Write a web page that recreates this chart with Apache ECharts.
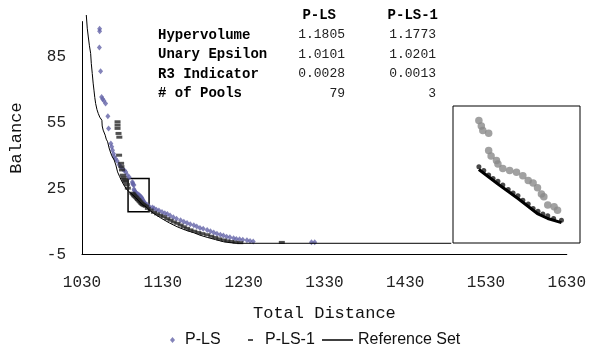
<!DOCTYPE html>
<html>
<head>
<meta charset="utf-8">
<script src="https://cdn.jsdelivr.net/npm/echarts@6/dist/echarts.min.js"></script>
<style>html,body{margin:0;padding:0;background:#fff}#c{width:589px;height:350px}</style>
</head>
<body>
<div id="c"></div>
<script>
// ---- data ----
const xTicks = [1030, 1130, 1230, 1330, 1430, 1530, 1630];
const yTicks = [-5, 25, 55, 85];
const xRange = [1030, 1630];
const yRange = [-5, 101];
const zoomBoxX = [1087, 1113];
const zoomBoxY = [14.5, 29.6];
const insetDataRange = [1092, 1110];

const metricNames = ['Hypervolume', 'Unary Epsilon', 'R3 Indicator', '# of Pools'];
const methodNames = ['P-LS', 'P-LS-1'];
const plsMetrics = ['1.1805', '1.0101', '0.0028', '79'];
const pls1Metrics = ['1.1773', '1.0201', '0.0013', '3'];

const plsPoints = [
  [1051.8, 97.8], [1051.8, 96.6], [1051.5, 89.2], [1053.0, 78.4], [1054.3, 66.7], [1055.5, 65.8],
  [1057.1, 65.0], [1059.2, 63.7], [1062.0, 57.9], [1062.9, 52.4], [1065.7, 45.5], [1066.8, 44.0],
  [1067.8, 42.5], [1069.0, 40.8], [1069.8, 39.5], [1071.5, 38.6], [1073.5, 37.5], [1076.0, 35.8],
  [1078.0, 34.9], [1080.5, 33.9], [1082.5, 33.2], [1084.2, 32.6], [1086.0, 31.2], [1088.5, 30.2],
  [1092.3, 28.0], [1092.8, 27.4], [1093.1, 26.9], [1094.3, 26.6], [1094.3, 24.7], [1094.8, 24.1],
  [1095.9, 23.6], [1096.2, 23.2], [1097.2, 22.7], [1098.6, 22.5], [1100.0, 22.3], [1101.3, 21.9],
  [1102.4, 21.4], [1103.4, 21.1], [1104.3, 20.6], [1105.1, 19.9], [1105.6, 19.6], [1106.4, 18.7],
  [1107.7, 18.5], [1108.4, 18.1], [1110.5, 17.6], [1113.0, 17.0], [1117.1, 16.4], [1119.1, 16.0],
  [1122.0, 15.4], [1125.2, 15.0], [1129.0, 14.3], [1132.5, 13.8], [1135.6, 13.4], [1139.0, 12.7],
  [1143.0, 11.9], [1147.0, 11.3], [1152.0, 10.6], [1156.0, 9.9], [1160.0, 9.3], [1164.0, 8.8],
  [1168.4, 8.3], [1172.0, 7.7], [1176.0, 7.1], [1180.0, 6.7], [1184.9, 6.1], [1189.0, 5.6],
  [1193.0, 5.0], [1197.0, 4.5], [1201.2, 4.0], [1205.0, 3.6], [1209.0, 3.1], [1213.0, 2.8],
  [1217.6, 2.4], [1221.0, 2.1], [1225.0, 1.9], [1229.0, 1.7], [1234.1, 1.5], [1238.0, 1.2],
  [1241.9, 0.9], [1314.0, 0.6], [1318.0, 0.6]
];

const pls1Points = [
  [1074.0, 55.4], [1074.0, 53.9], [1074.0, 52.4], [1075.2, 50.1], [1076.2, 48.4], [1075.9, 40.2],
  [1078.4, 36.5], [1078.8, 35.0], [1079.5, 33.5], [1080.5, 31.1], [1081.5, 30.0], [1082.5, 29.2],
  [1083.5, 28.6], [1084.2, 28.0], [1085.5, 26.8], [1086.7, 25.2],
  [1092.3, 22.9], [1093.3, 22.5], [1094.3, 22.0], [1095.2, 21.6], [1096.2, 21.3], [1097.2, 20.9],
  [1098.3, 20.4], [1099.3, 20.0], [1100.3, 19.7], [1101.3, 19.2], [1102.4, 18.8], [1103.4, 18.3],
  [1104.4, 18.0], [1105.4, 17.7], [1106.4, 17.5], [1107.6, 17.2], [1109.2, 17.0],
  [1111.5, 16.0], [1115.0, 15.2], [1119.0, 14.2], [1123.0, 13.5], [1127.0, 12.8], [1131.4, 12.2],
  [1135.5, 11.3], [1139.5, 10.6], [1143.5, 9.8], [1147.9, 9.2], [1152.0, 8.4], [1156.0, 7.6],
  [1160.0, 6.9], [1164.3, 6.2], [1169.0, 5.6], [1174.0, 5.0], [1179.0, 4.5], [1184.9, 4.0],
  [1190.0, 3.3], [1195.0, 2.7], [1200.0, 2.1], [1205.3, 1.6], [1210.0, 1.2], [1215.0, 0.9],
  [1220.0, 0.6], [1225.9, 0.4], [1277.3, 0.5]
];

const refPoints = [
  [1035.3, 104.0], [1036.5, 98.0], [1037.8, 94.0], [1039.2, 90.0], [1040.7, 86.5], [1041.5, 82.0],
  [1042.7, 77.4], [1043.8, 73.0], [1044.8, 69.8], [1045.8, 66.5], [1046.9, 63.7], [1048.5, 61.0],
  [1050.1, 59.2], [1052.0, 57.5], [1053.5, 56.8], [1054.6, 56.1], [1055.0, 53.5], [1056.2, 51.6],
  [1058.7, 49.3], [1060.0, 47.5], [1061.7, 46.3], [1063.5, 43.5], [1065.7, 41.0], [1067.5, 39.5],
  [1069.8, 38.0], [1071.9, 35.7], [1074.0, 32.6], [1076.5, 30.5], [1079.0, 28.5], [1082.0, 26.5],
  [1085.0, 24.8], [1088.0, 23.6], [1090.5, 22.9], [1092.3, 22.6], [1096.2, 21.0], [1100.3, 19.4],
  [1104.4, 17.7], [1106.4, 17.2], [1109.2, 16.75], [1113.0, 15.3], [1120.0, 13.4], [1128.0, 11.5],
  [1138.0, 9.4], [1147.9, 7.6], [1158.0, 6.1], [1168.4, 4.9], [1176.0, 3.8], [1184.9, 2.8],
  [1195.0, 1.8], [1205.3, 0.8], [1213.0, 0.4], [1221.8, 0.1], [1487.0, 0.1]
];

// ---- chart ----
const inRange = p => p[0] >= insetDataRange[0] && p[0] <= insetDataRange[1];
const monoFont = 'Liberation Mono';
const axisText = { fontFamily: monoFont, fontSize: 16, color: '#222' };

const chart = echarts.init(document.getElementById('c'), null, { renderer: 'canvas' });

const graphics = [];
const rowY = [35, 54.5, 74, 93.5];
graphics.push({ type: 'text', x: 336, y: 15, style: { text: methodNames[0], font: 'bold 14px "Liberation Mono"', fill: '#000', align: 'right', verticalAlign: 'middle' } });
graphics.push({ type: 'text', x: 438, y: 15, style: { text: methodNames[1], font: 'bold 14px "Liberation Mono"', fill: '#000', align: 'right', verticalAlign: 'middle' } });
metricNames.forEach((m, i) => {
  graphics.push({ type: 'text', x: 158, y: rowY[i], style: { text: m, font: 'bold 14px "Liberation Mono"', fill: '#000', align: 'left', verticalAlign: 'middle' } });
  graphics.push({ type: 'text', x: 345, y: rowY[i], style: { text: plsMetrics[i], font: '13px "Liberation Mono"', fill: '#222', align: 'right', verticalAlign: 'middle' } });
  graphics.push({ type: 'text', x: 436, y: rowY[i], style: { text: pls1Metrics[i], font: '13px "Liberation Mono"', fill: '#222', align: 'right', verticalAlign: 'middle' } });
});

const legendText = { fontFamily: 'Liberation Sans', fontSize: 16, color: '#111' };
const plainNum = v => String(v);

chart.setOption({
  animation: false,
  backgroundColor: '#fff',
  graphic: graphics,
  legend: [
    { data: [{ name: 'P-LS', icon: 'diamond' }], left: 170, top: 332, padding: 0, itemWidth: 5, itemHeight: 6, selectedMode: false, textStyle: Object.assign({ padding: [0, 0, 0, 5] }, legendText) },
    { data: [{ name: 'P-LS-1', icon: 'rect' }], left: 248, top: 332, padding: 0, itemWidth: 5, itemHeight: 2, selectedMode: false, textStyle: Object.assign({ padding: [0, 0, 0, 7] }, legendText) },
    { data: [{ name: 'Reference Set', icon: 'rect' }], left: 322, top: 332, padding: 0, itemWidth: 31, itemHeight: 1.5, selectedMode: false, textStyle: legendText }
  ],
  grid: [
    { left: 81, right: 18, top: 21.6, bottom: 95.5 },
    { left: 453, top: 106, width: 127, height: 137, show: true, backgroundColor: '#fff', borderColor: '#000', borderWidth: 1 }
  ],
  xAxis: [
    {
      type: 'value', gridIndex: 0, min: xRange[0], max: xRange[1],
      axisLine: { show: true, onZero: false, lineStyle: { color: '#000', width: 1 } },
      axisTick: { show: false }, splitLine: { show: false },
      axisLabel: Object.assign({ customValues: xTicks, margin: 20, formatter: plainNum }, axisText),
      name: 'Total Distance', nameLocation: 'middle', nameGap: 50,
      nameTextStyle: { fontFamily: monoFont, fontSize: 17, color: '#111' }
    },
    { type: 'value', gridIndex: 1, min: zoomBoxX[0], max: zoomBoxX[1], show: false }
  ],
  yAxis: [
    {
      type: 'value', gridIndex: 0, min: yRange[0], max: yRange[1],
      axisLine: { show: true, onZero: false, lineStyle: { color: '#000', width: 1 } },
      axisTick: { show: false }, splitLine: { show: false },
      axisLabel: Object.assign({ customValues: yTicks, margin: 16, formatter: plainNum }, axisText),
      name: 'Balance', nameLocation: 'middle', nameGap: 57,
      nameTextStyle: { fontFamily: monoFont, fontSize: 17, color: '#111' }
    },
    { type: 'value', gridIndex: 1, min: zoomBoxY[0], max: zoomBoxY[1], show: false }
  ],
  series: [
    {
      name: 'P-LS', type: 'scatter', xAxisIndex: 0, yAxisIndex: 0, data: plsPoints,
      symbol: 'diamond', symbolSize: [5, 6], itemStyle: { color: '#6464A8' }, z: 2
    },
    {
      name: 'P-LS-1', type: 'scatter', xAxisIndex: 0, yAxisIndex: 0, data: pls1Points,
      symbol: 'rect', symbolSize: [6, 3], itemStyle: { color: '#262626' }, z: 3
    },
    {
      name: 'Reference Set', type: 'line', xAxisIndex: 0, yAxisIndex: 0, data: refPoints,
      symbol: 'none', clip: false, lineStyle: { color: '#000', width: 1 }, itemStyle: { color: '#000' }, z: 4,
      markArea: {
        silent: true,
        itemStyle: { color: 'rgba(0,0,0,0)', borderColor: '#000', borderWidth: 1.5 },
        label: { show: false },
        data: [[{ coord: [zoomBoxX[0], zoomBoxY[1]] }, { coord: [zoomBoxX[1], zoomBoxY[0]] }]]
      }
    },
    {
      name: 'P-LS zoom', type: 'scatter', xAxisIndex: 1, yAxisIndex: 1, data: plsPoints.filter(inRange),
      symbol: 'circle', symbolSize: 7.5, itemStyle: { color: '#8a8a8a' }, clip: true, z: 5
    },
    {
      name: 'P-LS-1 zoom', type: 'scatter', xAxisIndex: 1, yAxisIndex: 1, data: pls1Points.filter(inRange),
      symbol: 'circle', symbolSize: 5, itemStyle: { color: '#1a1a1a' }, clip: true, z: 6
    },
    {
      name: 'Reference zoom', type: 'line', xAxisIndex: 1, yAxisIndex: 1, data: refPoints.filter(inRange),
      symbol: 'none', lineStyle: { color: '#000', width: 3 }, z: 7
    }
  ]
});
</script>
</body>
</html>
